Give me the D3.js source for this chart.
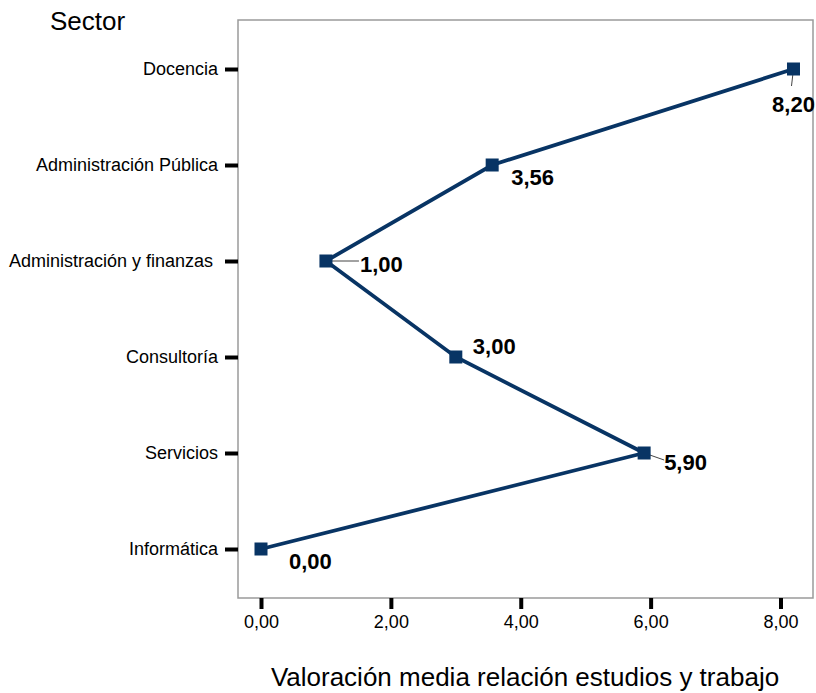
<!DOCTYPE html>
<html>
<head>
<meta charset="utf-8">
<script src="https://cdn.jsdelivr.net/npm/d3@7"></script>
<style>
  body { margin: 0; background: #fff; }
  svg { font-family: "Liberation Sans", Arial, sans-serif; }
</style>
</head>
<body>
<script>
var w = 816,
    h = 693;

// data
var sectors = ["Docencia", "Administración Pública", "Administración y finanzas ",
               "Consultoría", "Servicios", "Informática"];
var valores = [8.20, 3.56, 1.00, 3.00, 5.90, 0.00];
var xTicks = [0, 2, 4, 6, 8];

// where each value label sits relative to its marker
var labelDx = [0, 19, 34, 17, 20, 28];
var labelDy = [43, 20, 11, -3, 17, 20];
var labelAnchor = ["middle", "start", "start", "start", "start", "start"];
var leaderEnd = [[-2, 17], [0, 0], [33, 0], [0, 0], [20, 7], [0, 0]];

var fmt = function (d) { return d3.format(".2f")(d).replace(".", ","); };

var frame = {left: 238, right: 813, top: 20, bottom: 598};

var x = d3.scaleLinear()
    .domain([0, 8])
    .range([261, 780.5]);

var y = d3.scalePoint()
    .domain(sectors)
    .range([69, 549]);

var svg = d3.select("body")
    .append("svg")
    .attr("width", w)
    .attr("height", h);

//frame
svg.append("rect")
    .attr("x", frame.left)
    .attr("y", frame.top)
    .attr("width", frame.right - frame.left)
    .attr("height", frame.bottom - frame.top)
    .attr("fill", "none")
    .attr("stroke", "#9a9a9a")
    .attr("stroke-width", 1.5);

//x axis
var xAxis = svg.append("g")
    .attr("transform", "translate(0," + frame.bottom + ")")
    .call(d3.axisBottom(x).tickValues(xTicks).tickFormat(fmt).tickSize(11).tickPadding(6));
xAxis.select(".domain").remove();
xAxis.selectAll(".tick line").attr("stroke", "#000").attr("stroke-width", 4);
xAxis.selectAll(".tick text")
    .attr("font-family", "Liberation Sans, Arial, sans-serif")
    .attr("font-size", 18)
    .attr("fill", "#000");

//y axis
var yAxis = svg.append("g")
    .attr("transform", "translate(" + frame.left + ",0)")
    .call(d3.axisLeft(y).tickSize(13).tickPadding(7));
yAxis.select(".domain").remove();
yAxis.selectAll(".tick line").attr("stroke", "#000").attr("stroke-width", 4);
yAxis.selectAll(".tick text")
    .attr("font-family", "Liberation Sans, Arial, sans-serif")
    .attr("font-size", 18)
    .attr("fill", "#000")
    .style("white-space", "pre");

//titles
svg.append("text")
    .attr("x", 50)
    .attr("y", 30)
    .attr("font-size", 26)
    .text("Sector");

svg.append("text")
    .attr("x", 525)
    .attr("y", 686)
    .attr("text-anchor", "middle")
    .attr("font-size", 26)
    .text("Valoración media relación estudios y trabajo");

//line
var line = d3.line()
    .x(function (d) { return x(d); })
    .y(function (d, i) { return y(sectors[i]); });

svg.append("path")
    .datum(valores)
    .attr("d", line)
    .attr("fill", "none")
    .attr("stroke", "#083464")
    .attr("stroke-width", 3.8);

//leader lines
svg.selectAll("line.leader")
    .data(valores)
    .enter()
    .append("line")
    .attr("class", "leader")
    .attr("x1", function (d) { return x(d); })
    .attr("y1", function (d, i) { return y(sectors[i]); })
    .attr("x2", function (d, i) { return x(d) + leaderEnd[i][0]; })
    .attr("y2", function (d, i) { return y(sectors[i]) + leaderEnd[i][1]; })
    .attr("stroke", "#444")
    .attr("stroke-width", 1);

//markers
svg.selectAll("rect.marker")
    .data(valores)
    .enter()
    .append("rect")
    .attr("class", "marker")
    .attr("x", function (d) { return x(d) - 6.5; })
    .attr("y", function (d, i) { return y(sectors[i]) - 6.5; })
    .attr("width", 13)
    .attr("height", 13)
    .attr("fill", "#083464");

//value labels
svg.selectAll("text.val")
    .data(valores)
    .enter()
    .append("text")
    .attr("class", "val")
    .attr("x", function (d, i) { return x(d) + labelDx[i]; })
    .attr("y", function (d, i) { return y(sectors[i]) + labelDy[i]; })
    .attr("text-anchor", function (d, i) { return labelAnchor[i]; })
    .attr("font-size", 22)
    .attr("font-weight", "bold")
    .text(fmt);
</script>
</body>
</html>
